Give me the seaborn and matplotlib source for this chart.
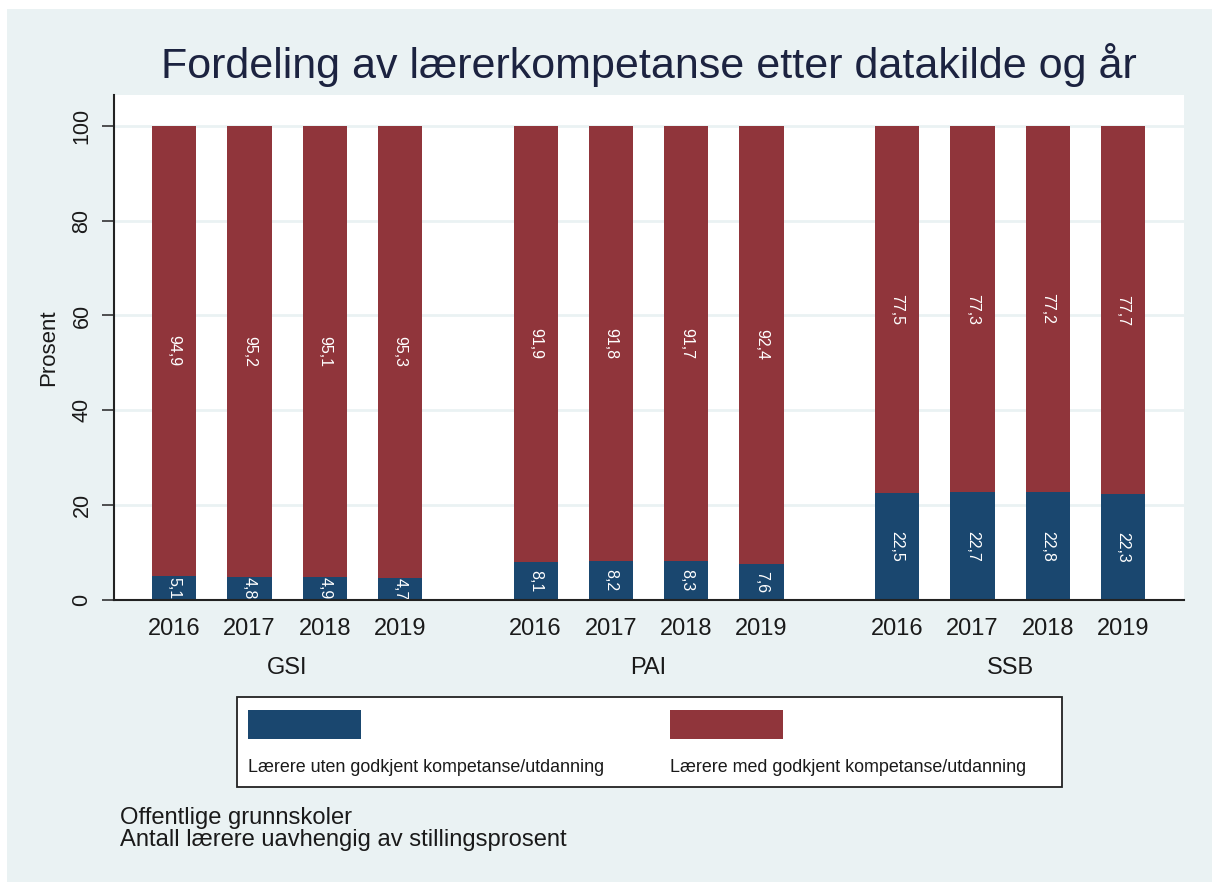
import numpy as np
import pandas as pd
import matplotlib
matplotlib.use("Agg")
import matplotlib.pyplot as plt
from matplotlib.patches import Rectangle
import matplotlib.transforms as mtransforms
import seaborn as sns

# ---- data ----
sources = ["GSI", "PAI", "SSB"]
years = ["2016", "2017", "2018", "2019"]
uten = [5.1, 4.8, 4.9, 4.7, 8.1, 8.2, 8.3, 7.6, 22.5, 22.7, 22.8, 22.3]
med = [94.9, 95.2, 95.1, 95.3, 91.9, 91.8, 91.7, 92.4, 77.5, 77.3, 77.2, 77.7]
legend_labels = ["Lærere uten godkjent kompetanse/utdanning",
                 "Lærere med godkjent kompetanse/utdanning"]
title = "Fordeling av lærerkompetanse etter datakilde og år"
ylabel = "Prosent"
yticks = [0, 20, 40, 60, 80, 100]
notes = ["Offentlige grunnskoler", "Antall lærere uavhengig av stillingsprosent"]

BLUE = "#1A476F"
RED = "#90353B"
BG = "#EAF2F3"
TXT = "#1a1a1a"

group_gap = 0.8
rows = []
for gi, s in enumerate(sources):
    for yi, y in enumerate(years):
        k = gi * len(years) + yi
        rows.append(dict(source=s, year=y, pos=gi * (len(years) + group_gap) + yi,
                         uten=uten[k], med=med[k], total=uten[k] + med[k]))
df = pd.DataFrame(rows)

sns.set_theme(style="white")
plt.rcParams["font.family"] = ["Liberation Sans", "DejaVu Sans"]

W, H = 1212, 882
fig = plt.figure(figsize=(W / 100, H / 100), dpi=100)
fig.patch.set_facecolor("white")
fig.patches.append(Rectangle((7 / W, 0), 1, 873 / H, transform=fig.transFigure,
                             facecolor=BG, edgecolor="none", zorder=-10))

ax = fig.add_axes([114 / W, 1 - 600 / H, (1184 - 114) / W, (600 - 95) / H])
ax.set_facecolor("white")

bw = 0.587
sns.barplot(data=df, x="pos", y="total", native_scale=True, width=bw, color=RED,
            saturation=1, linewidth=0, ax=ax, zorder=3, errorbar=None)
sns.barplot(data=df, x="pos", y="uten", native_scale=True, width=bw, color=BLUE,
            saturation=1, linewidth=0, ax=ax, zorder=4, errorbar=None)

# bar labels
for _, r in df.iterrows():
    ax.text(r["pos"], r["uten"] / 2, f"{r['uten']:.1f}".replace(".", ","),
            rotation=270, color="white", ha="center", va="center", fontsize=11.5, zorder=5)
    ax.text(r["pos"], r["uten"] + r["med"] / 2, f"{r['med']:.1f}".replace(".", ","),
            rotation=270, color="white", ha="center", va="center", fontsize=11.5, zorder=5)

ax.set_xlim(df["pos"].min() - 0.8, df["pos"].max() + 0.81)
ax.set_ylim(0, 106.5)
ax.set_yticks(yticks)
ax.set_yticklabels([str(v) for v in yticks], rotation=90, va="center",
                   fontsize=15.5, color=TXT)
ax.yaxis.grid(True, color=BG, linewidth=2, zorder=0)
ax.set_axisbelow(True)
ax.set_xticks(df["pos"])
ax.set_xticklabels(df["year"], fontsize=17, color=TXT)
ax.tick_params(axis="x", length=0, pad=13)
ax.tick_params(axis="y", length=8.5, width=1.2, color="#333333", pad=7, left=True)
ax.set_xlabel("")
ax.set_ylabel(ylabel, fontsize=16, color=TXT, labelpad=9)

for sp in ["top", "right"]:
    ax.spines[sp].set_visible(False)
for sp in ["left", "bottom"]:
    ax.spines[sp].set_color("#222222")
    ax.spines[sp].set_linewidth(1.5)
    ax.spines[sp].set_zorder(6)

# group labels
trans = mtransforms.blended_transform_factory(ax.transData, ax.transAxes)
for gi, s in enumerate(sources):
    sub = df[df["source"] == s]["pos"]
    ax.text(sub.mean(), (600 - 668) / 505, s, transform=trans, ha="center", va="center",
            fontsize=17, color=TXT)

# title
fig.text((114 + 1184) / 2 / W, 1 - 65 / H, title, ha="center", va="center",
         fontsize=31, color="#1c2340")

# legend (manual, Stata style: key above label)
fig.patches.append(Rectangle((237 / W, 1 - 787 / H), (1062 - 237) / W, 90 / H,
                             transform=fig.transFigure, facecolor="white",
                             edgecolor="#222222", linewidth=1.3, zorder=1))
for x0, col, lab in [(248, BLUE, legend_labels[0]), (670, RED, legend_labels[1])]:
    fig.patches.append(Rectangle((x0 / W, 1 - 739 / H), 113 / W, 29 / H,
                                 transform=fig.transFigure, facecolor=col,
                                 edgecolor="none", zorder=2))
    fig.text(x0 / W, 1 - 768 / H, lab, ha="left", va="center", fontsize=12.9,
             color=TXT, zorder=3)

# notes
fig.text(120 / W, 1 - 818 / H, notes[0], ha="left", va="center", fontsize=17.1, color=TXT)
fig.text(120 / W, 1 - 840 / H, notes[1], ha="left", va="center", fontsize=17.1, color=TXT)

fig.savefig("out.png", dpi=100, facecolor=fig.get_facecolor())
